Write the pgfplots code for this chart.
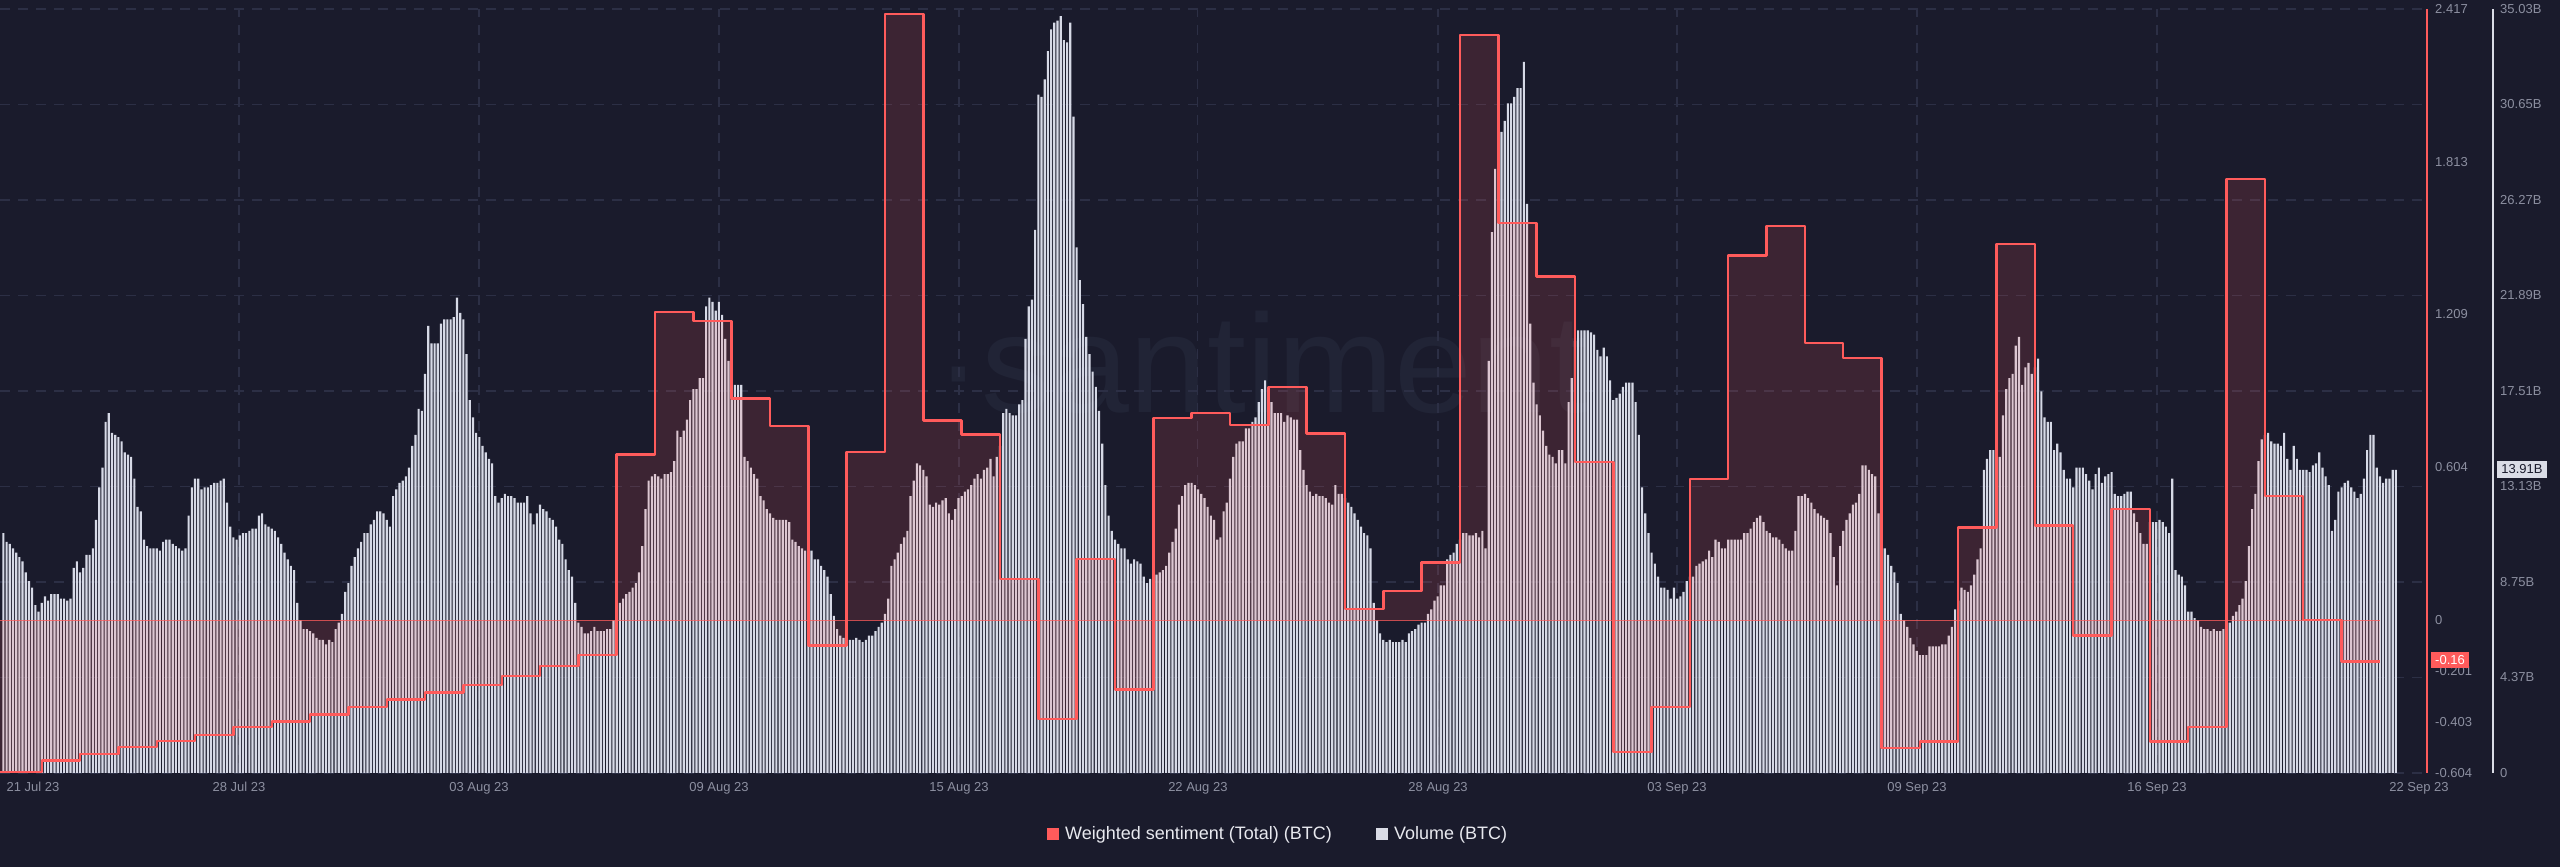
\documentclass[border=0pt]{standalone}
\usepackage{fontspec}
\setmainfont{Liberation Sans}
\usepackage{pgfplots}
\pgfplotsset{compat=1.18}
\definecolor{bg}{HTML}{1A1B2C}
\definecolor{sred}{HTML}{FF5B5B}
\definecolor{barcol}{HTML}{D6D9E6}
\definecolor{gridcol}{HTML}{2C2F45}
\definecolor{tickgray}{HTML}{8C8FA0}
\definecolor{wm}{HTML}{212436}
\definecolor{axwhite}{HTML}{DADCE6}
\definecolor{legtext}{HTML}{E8E9EF}
\newcommand\tickfont{\fontsize{13}{15}\selectfont}
\newcommand\legfont{\fontsize{18}{21}\selectfont}
\begin{document}
\begin{tikzpicture}
\fill[bg] (0,0) rectangle (2560pt,867pt);
\node[text=wm, anchor=base west, inner sep=0pt] at (935pt,454pt) {\fontsize{140}{140}\selectfont ·santiment};
\begin{axis}[
  at={(0pt,94pt)}, anchor=south west,
  scale only axis, width=2427pt, height=764pt,
  xmin=-2.13, xmax=1517.5, ymin=0, ymax=35.03,
  axis line style={draw=none}, tick style={draw=none},
  major tick length=0pt,
  grid=major,
  major grid style={draw=gridcol, line width=1.2pt, dash pattern=on 10pt off 8pt},
  xtick={147.5,297.8,448.1,598.3,747.9,898.3,1047.9,1198.2,1348.4},
  xticklabels={28 Jul 23,03 Aug 23,09 Aug 23,15 Aug 23,22 Aug 23,28 Aug 23,03 Sep 23,09 Sep 23,16 Sep 23},
  extra x ticks={18.5,1512.5},
  extra x tick labels={21 Jul 23,22 Sep 23},
  extra x tick style={grid=none},
  xticklabel style={anchor=base, yshift=-18.5pt, inner sep=0pt, font=\tickfont, text=tickgray},
  ytick={0,4.379,8.758,13.136,17.515,21.894,26.273,30.651,35.03},
  yticklabels={0,4.37B,8.75B,13.13B,17.51B,21.89B,26.27B,30.65B,35.03B},
  ytick pos=right, yticklabel pos=right,
  yticklabel style={anchor=west, xshift=73pt, inner sep=0pt, font=\tickfont, text=tickgray},
]
\addplot[ybar, bar width=1.35, bar shift=0pt, fill=barcol, draw=none]
 table[x expr=\coordindex*2, y=v, row sep=\\] {
v\\
11.0\\ 10.6\\ 10.5\\ 10.3\\ 10.1\\ 9.9\\ 9.7\\ 9.2\\ 8.8\\ 8.5\\
7.7\\ 7.4\\ 7.8\\ 8.1\\ 7.9\\ 8.2\\ 8.2\\ 8.2\\ 8.0\\ 8.0\\
7.9\\ 8.0\\ 9.4\\ 9.7\\ 9.2\\ 9.4\\ 10.0\\ 10.0\\ 10.3\\ 11.6\\
13.1\\ 14.0\\ 16.1\\ 16.5\\ 15.6\\ 15.5\\ 15.4\\ 15.2\\ 14.7\\ 14.6\\
14.5\\ 13.5\\ 12.2\\ 12.0\\ 10.7\\ 10.4\\ 10.3\\ 10.3\\ 10.3\\ 10.2\\
10.6\\ 10.7\\ 10.7\\ 10.5\\ 10.4\\ 10.3\\ 10.2\\ 10.3\\ 11.8\\ 13.1\\
13.5\\ 13.5\\ 13.0\\ 13.1\\ 13.1\\ 13.2\\ 13.3\\ 13.3\\ 13.4\\ 13.5\\
12.4\\ 11.3\\ 10.8\\ 10.7\\ 10.9\\ 11.0\\ 11.0\\ 11.1\\ 11.2\\ 11.2\\
11.8\\ 11.9\\ 11.4\\ 11.3\\ 11.2\\ 11.1\\ 10.8\\ 10.5\\ 10.1\\ 9.8\\
9.5\\ 9.3\\ 7.8\\ 7.0\\ 6.6\\ 6.6\\ 6.5\\ 6.4\\ 6.2\\ 6.1\\
6.1\\ 5.9\\ 6.1\\ 6.0\\ 6.6\\ 6.9\\ 7.3\\ 8.3\\ 8.7\\ 9.5\\
9.9\\ 10.3\\ 10.6\\ 11.0\\ 11.0\\ 11.4\\ 11.6\\ 12.0\\ 12.0\\ 11.9\\
11.6\\ 11.3\\ 12.7\\ 13.0\\ 13.3\\ 13.4\\ 13.6\\ 14.0\\
15.0\\ 15.5\\ 16.7\\ 16.6\\ 18.3\\ 20.5\\ 19.7\\ 19.7\\ 19.7\\ 20.6\\
20.8\\ 20.8\\ 20.8\\ 20.9\\ 21.8\\ 21.1\\ 20.8\\ 19.2\\ 17.1\\ 16.3\\
15.6\\ 15.4\\ 15.0\\ 14.7\\ 14.4\\ 14.2\\ 12.7\\ 12.4\\ 12.6\\ 12.8\\
12.7\\ 12.7\\ 12.6\\ 12.4\\ 12.4\\ 12.4\\ 12.7\\ 11.9\\ 11.4\\ 11.9\\
12.3\\ 12.1\\ 12.0\\ 11.7\\ 11.6\\ 11.3\\ 10.7\\ 10.5\\ 9.8\\ 9.3\\
9.0\\ 7.8\\ 6.9\\ 6.7\\ 6.4\\ 6.4\\ 6.5\\ 6.7\\ 6.5\\ 6.5\\
6.5\\ 6.6\\ 6.6\\ 7.0\\ 7.3\\ 7.8\\ 8.0\\ 8.2\\ 8.3\\ 8.5\\
8.7\\ 9.2\\ 10.4\\ 12.1\\ 13.4\\ 13.6\\ 13.7\\ 13.6\\ 13.5\\ 13.7\\
13.7\\ 13.8\\ 14.3\\ 15.7\\ 15.4\\ 15.7\\ 16.2\\ 17.1\\ 17.6\\ 17.6\\
18.1\\ 18.1\\ 21.4\\ 21.8\\ 21.6\\ 21.2\\ 21.6\\ 21.0\\ 19.9\\ 18.9\\
18.3\\ 17.8\\ 17.8\\ 17.8\\ 14.5\\ 14.3\\ 14.0\\ 13.7\\ 13.5\\ 12.7\\
12.5\\ 12.1\\ 11.9\\ 11.7\\ 11.6\\ 11.6\\ 11.6\\ 11.6\\ 11.5\\ 10.7\\
10.6\\ 10.4\\ 10.3\\ 10.2\\ 10.2\\ 10.2\\ 9.8\\
9.8\\ 9.5\\ 9.3\\ 9.0\\ 8.2\\ 7.2\\ 6.6\\ 6.3\\ 6.2\\ 6.1\\
6.1\\ 6.1\\ 6.2\\ 6.1\\ 6.0\\ 6.1\\ 6.3\\ 6.3\\ 6.5\\ 6.7\\
6.9\\ 7.3\\ 8.0\\ 9.5\\ 9.8\\ 10.1\\ 10.5\\ 10.8\\ 11.1\\ 12.7\\
13.4\\ 14.2\\ 14.1\\ 13.9\\ 13.6\\ 12.3\\ 12.2\\ 12.4\\ 12.3\\ 12.5\\
12.6\\ 11.9\\ 11.6\\ 12.1\\ 12.6\\ 12.7\\ 12.9\\ 13.0\\ 13.2\\ 13.5\\
13.7\\ 13.5\\ 13.9\\ 14.0\\ 14.4\\ 13.6\\ 14.5\\ 15.0\\ 16.5\\ 16.7\\
16.5\\ 16.4\\ 16.4\\ 16.9\\ 17.1\\ 19.9\\ 21.4\\ 21.7\\ 24.9\\ 31.1\\
31.0\\ 31.8\\ 33.1\\ 34.1\\ 34.4\\ 34.5\\ 34.7\\ 33.6\\ 33.5\\ 34.4\\
30.1\\ 24.1\\ 22.6\\ 21.5\\ 20.0\\ 19.2\\ 18.4\\ 17.7\\ 16.6\\ 15.1\\
13.2\\ 11.8\\ 11.1\\ 10.7\\ 10.5\\ 10.3\\ 10.3\\ 9.8\\ 9.6\\ 9.8\\
9.7\\ 9.6\\ 9.0\\ 8.7\\ 8.9\\ 9.0\\ 9.1\\ 9.2\\ 9.3\\ 9.5\\
10.1\\ 10.6\\ 11.2\\ 12.3\\ 12.7\\ 13.2\\ 13.3\\ 13.3\\ 13.2\\ 13.0\\
12.8\\ 12.6\\ 12.2\\ 11.8\\ 11.6\\ 10.7\\ 10.8\\
12.0\\ 12.4\\ 13.5\\ 14.5\\ 15.1\\ 15.2\\ 15.2\\ 15.8\\ 15.8\\ 16.1\\
16.3\\ 17.0\\ 17.6\\ 18.0\\ 17.5\\ 17.0\\ 16.5\\ 16.5\\ 16.5\\ 16.1\\
16.4\\ 16.3\\ 16.2\\ 16.2\\ 14.8\\ 13.9\\ 13.2\\ 12.9\\ 12.7\\ 12.8\\
12.7\\ 12.7\\ 12.6\\ 12.4\\ 12.3\\ 13.2\\ 12.8\\ 12.8\\ 12.6\\ 12.4\\
12.2\\ 11.9\\ 11.6\\ 11.3\\ 11.0\\ 10.9\\ 10.3\\ 7.8\\ 7.0\\ 6.4\\
6.1\\ 6.0\\ 6.1\\ 6.0\\ 6.0\\ 6.0\\ 6.1\\ 6.0\\ 6.4\\ 6.5\\
6.6\\ 6.8\\ 6.9\\ 6.9\\ 7.3\\ 7.5\\ 7.9\\ 8.1\\ 8.6\\ 8.6\\
9.8\\ 10.0\\ 10.1\\ 10.5\\ 10.7\\ 11.0\\ 11.0\\ 10.9\\ 10.9\\ 11.0\\
10.8\\ 11.1\\ 10.3\\ 18.9\\ 24.8\\ 27.7\\ 28.9\\ 29.4\\ 29.9\\ 30.7\\
30.7\\ 31.0\\ 31.4\\ 31.4\\ 32.6\\ 26.1\\ 20.6\\ 17.9\\ 16.9\\ 16.4\\
15.7\\ 15.0\\ 14.6\\ 14.5\\ 14.2\\ 14.8\\ 14.8\\ 14.2\\ 17.0\\ 18.1\\
19.8\\ 20.3\\ 20.3\\ 20.3\\ 20.3\\ 20.2\\ 20.1\\ 19.4\\ 19.1\\ 19.5\\
19.1\\ 18.0\\ 17.1\\ 17.2\\ 17.4\\ 17.7\\ 17.9\\
17.9\\ 17.9\\ 17.0\\ 15.5\\ 13.1\\ 11.9\\ 11.0\\ 10.1\\ 9.6\\ 9.0\\
8.5\\ 8.5\\ 8.4\\ 8.0\\ 8.5\\ 8.0\\ 8.1\\ 8.3\\ 8.8\\ 9.0\\
9.0\\ 9.5\\ 9.6\\ 9.7\\ 9.8\\ 10.2\\ 9.9\\ 10.7\\ 10.6\\ 10.3\\
10.3\\ 10.7\\ 10.7\\ 10.7\\ 10.7\\ 10.7\\ 11.0\\ 11.0\\ 11.2\\ 11.5\\
11.7\\ 11.8\\ 11.5\\ 11.1\\ 11.0\\ 10.8\\ 10.8\\ 10.7\\ 10.5\\ 10.3\\
10.2\\ 10.2\\ 11.1\\ 12.7\\ 12.7\\ 12.8\\ 12.6\\ 12.4\\ 12.1\\ 11.9\\
11.8\\ 11.7\\ 11.6\\ 11.0\\ 9.9\\ 8.6\\ 10.4\\ 11.1\\ 11.6\\ 11.9\\
12.3\\ 12.4\\ 12.8\\ 14.1\\ 14.1\\ 13.9\\ 13.7\\ 13.6\\ 11.9\\ 10.8\\
10.3\\ 10.0\\ 9.5\\ 9.2\\ 8.7\\ 7.3\\ 7.0\\ 6.7\\ 6.2\\ 5.9\\
5.6\\ 5.4\\ 5.4\\ 5.4\\ 5.8\\ 5.8\\ 5.8\\ 5.8\\ 5.9\\ 5.9\\
6.3\\ 6.7\\ 7.5\\ 7.9\\ 8.5\\ 8.4\\ 8.3\\ 8.6\\ 9.1\\ 9.8\\
10.3\\ 13.9\\ 14.4\\ 14.8\\ 14.8\\ 14.7\\ 14.5\\ 16.4\\ 17.6\\ 18.1\\
18.3\\ 19.6\\ 20.0\\ 17.8\\ 18.6\\ 18.8\\
18.3\\ 18.6\\ 19.0\\ 17.5\\ 16.3\\ 16.1\\ 16.1\\ 14.8\\ 15.1\\ 14.7\\
13.9\\ 13.5\\ 13.5\\ 13.1\\ 14.0\\ 14.0\\ 14.0\\ 13.7\\ 13.4\\ 13.0\\
13.7\\ 14.0\\ 13.3\\ 13.6\\ 13.7\\ 13.8\\ 12.8\\ 12.7\\ 12.7\\ 12.8\\
12.9\\ 12.9\\ 11.9\\ 11.5\\ 11.0\\ 10.5\\ 10.5\\ 11.5\\ 11.5\\ 11.5\\
11.6\\ 11.5\\ 11.3\\ 11.0\\ 13.5\\ 9.3\\ 9.1\\ 9.0\\ 8.6\\ 7.4\\
7.4\\ 7.1\\ 7.0\\ 6.7\\ 6.6\\ 6.6\\ 6.5\\ 6.6\\ 6.5\\ 6.5\\
6.6\\ 6.7\\ 6.9\\ 7.2\\ 7.4\\ 7.7\\ 8.0\\ 8.8\\ 10.4\\ 12.1\\
12.8\\ 14.3\\ 15.3\\ 15.5\\ 15.6\\ 15.2\\ 15.1\\ 15.1\\ 15.0\\ 15.6\\
14.4\\ 13.9\\ 15.0\\ 14.4\\ 13.9\\ 13.9\\ 13.9\\ 13.8\\ 14.1\\ 14.2\\
14.7\\ 14.0\\ 13.6\\ 13.2\\ 11.1\\ 11.6\\ 12.9\\ 13.1\\ 13.3\\ 13.4\\
13.1\\ 12.9\\ 12.6\\ 12.8\\ 13.5\\ 14.8\\ 15.5\\ 15.5\\ 14.0\\ 13.6\\
13.3\\ 13.5\\ 13.5\\ 13.9\\ 13.9\\
};
\end{axis}
\begin{axis}[
  at={(0pt,94pt)}, anchor=south west,
  scale only axis, width=2427pt, height=764pt,
  xmin=-2.13, xmax=1517.5, ymin=-0.604, ymax=2.417,
  axis line style={draw=none}, tick style={draw=none}, major tick length=0pt,
  xtick=\empty, clip=false,
  ytick={-0.604,-0.403,-0.201,0,0.604,1.209,1.813,2.417},
  yticklabels={-0.604,-0.403,-0.201,0,0.604,1.209,1.813,2.417},
  ytick pos=right, yticklabel pos=right,
  yticklabel style={anchor=west, xshift=8pt, inner sep=0pt, font=\tickfont, text=tickgray},
]
\addplot[const plot, fill=sred, fill opacity=0.15, draw=none] coordinates {
(-2.13,-0.600) (24,-0.555) (48,-0.530) (72,-0.502) (96,-0.478) (120,-0.453) (144,-0.423) (168,-0.400) (192,-0.372) (216,-0.343) (240,-0.313) (264,-0.285) (288,-0.256) (312,-0.220) (336,-0.181) (360,-0.138) (384,0.655) (408,1.218) (432,1.183) (456,0.877) (480,0.767) (504,-0.100) (528,0.666) (552,2.396) (576,0.790) (600,0.735) (624,0.164) (648,-0.390) (672,0.241) (696,-0.274) (720,0.800) (744,0.820) (768,0.771) (792,0.922) (816,0.739) (840,0.044) (864,0.115) (888,0.229) (912,2.314) (936,1.571) (960,1.360) (984,0.625) (1008,-0.520) (1032,-0.343) (1056,0.558) (1080,1.443) (1104,1.559) (1128,1.096) (1152,1.037) (1176,-0.504) (1200,-0.480) (1224,0.367) (1248,1.488) (1272,0.375) (1296,-0.061) (1320,0.440) (1344,-0.480) (1368,-0.421) (1392,1.744) (1416,0.491) (1440,0.002) (1464,-0.163) (1488,-0.163)
} \closedcycle;
\addplot[sred, line width=1pt, opacity=0.75] coordinates {(-2.13,0) (1488,0)};
\addplot[const plot, sred, line width=2.4pt, line join=round] coordinates {
(-2.13,-0.600) (24,-0.555) (48,-0.530) (72,-0.502) (96,-0.478) (120,-0.453) (144,-0.423) (168,-0.400) (192,-0.372) (216,-0.343) (240,-0.313) (264,-0.285) (288,-0.256) (312,-0.220) (336,-0.181) (360,-0.138) (384,0.655) (408,1.218) (432,1.183) (456,0.877) (480,0.767) (504,-0.100) (528,0.666) (552,2.396) (576,0.790) (600,0.735) (624,0.164) (648,-0.390) (672,0.241) (696,-0.274) (720,0.800) (744,0.820) (768,0.771) (792,0.922) (816,0.739) (840,0.044) (864,0.115) (888,0.229) (912,2.314) (936,1.571) (960,1.360) (984,0.625) (1008,-0.520) (1032,-0.343) (1056,0.558) (1080,1.443) (1104,1.559) (1128,1.096) (1152,1.037) (1176,-0.504) (1200,-0.480) (1224,0.367) (1248,1.488) (1272,0.375) (1296,-0.061) (1320,0.440) (1344,-0.480) (1368,-0.421) (1392,1.744) (1416,0.491) (1440,0.002) (1464,-0.163) (1488,-0.163)
};
\draw[sred, line width=1.5pt] (rel axis cs:1,0) -- (rel axis cs:1,1);
\end{axis}
\draw[axwhite, line width=1.5pt] (2493pt,94pt) -- (2493pt,858pt);
\node[fill=axwhite, text=bg, inner sep=0pt, minimum width=50pt, minimum height=17pt, font=\tickfont] at (2522pt,397.5pt) {13.91B};
\node[fill=sred, text=white, inner sep=0pt, minimum width=38pt, minimum height=16pt, font=\tickfont] at (2450pt,207pt) {-0.16};
\fill[sred] (1047pt,27pt) rectangle (1058.5pt,39pt);
\node[anchor=base west, inner sep=0pt, text=legtext, font=\legfont] at (1065pt,27pt) {Weighted sentiment (Total) (BTC)};
\fill[axwhite] (1376pt,27pt) rectangle (1387.5pt,39pt);
\node[anchor=base west, inner sep=0pt, text=legtext, font=\legfont] at (1394pt,27pt) {Volume (BTC)};
\pgfresetboundingbox
\useasboundingbox (0,0) rectangle (2560pt,867pt);
\end{tikzpicture}
\end{document}
